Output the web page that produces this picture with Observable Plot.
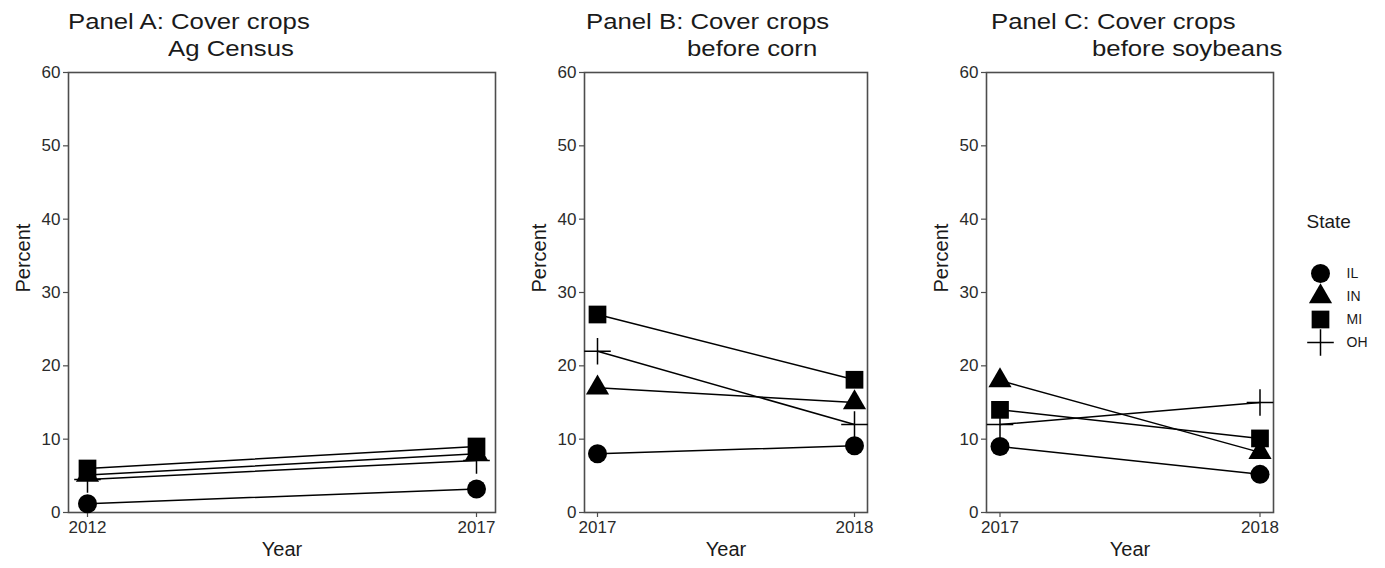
<!DOCTYPE html>
<html><head><meta charset="utf-8">
<script src="https://cdn.jsdelivr.net/npm/d3@7"></script>
<script src="https://cdn.jsdelivr.net/npm/@observablehq/plot@0.6"></script>
<style>
body{margin:0;background:#fff;}
#root{position:relative;width:1385px;height:568px;overflow:hidden;background:#fff;font-family:"Liberation Sans",Arial,sans-serif;color:#1a1a1a;}
.panel{position:absolute;top:0;}
.title{position:absolute;font-size:22px;white-space:nowrap;transform:scaleX(1.17);transform-origin:left top;line-height:1;}
</style></head><body><div id="root"></div>
<script>
// ---- data ----
const states = ["IL", "IN", "MI", "OH"];
const yearsA = [2012, 2017];
const yearsBC = [2017, 2018];
const percentTicks = [0, 10, 20, 30, 40, 50, 60];
// values per state in order IL, IN, MI, OH; each [first year, second year]
const panelAValues = [[1.2, 3.2], [5.1, 8.0], [6.0, 9.0], [4.5, 7.1]];
const panelBValues = [[8.0, 9.1], [17.0, 15.0], [27.0, 18.1], [22.0, 12.0]];
const panelCValues = [[9.0, 5.2], [18.0, 8.2], [14.0, 10.1], [12.0, 15.0]];
const panelTitles = [
  ["Panel A: Cover crops", "Ag Census"],
  ["Panel B: Cover crops", "before corn"],
  ["Panel C: Cover crops", "before soybeans"]
];
const legendTitle = "State";
const xLabel = "Year";
const yLabel = "Percent";

// ---- style / layout ----
const stateSymbols = ["circle", "triangle", "square", "plus"];
const symbolRadius = {IL: 9.5, IN: 8.6, MI: 10, OH: 8.6};
const font = '"Liberation Sans", Arial, sans-serif';
const layout = [
  {left: 0, boxWidth: 427, inset: 19, years: yearsA, values: panelAValues, t1: 68, t2: 168},
  {left: 516, boxWidth: 283, inset: 13, years: yearsBC, values: panelBValues, t1: 586, t2: 687},
  {left: 918, boxWidth: 287, inset: 13.5, years: yearsBC, values: panelCValues, t1: 991, t2: 1092}
];

function symbolDots(data, opts) {
  return states.map(s => Plot.dot(data.filter(d => (d.state ?? d) === s), {
    ...opts,
    r: symbolRadius[s],
    fill: s === "OH" ? "none" : "black",
    stroke: s === "OH" ? "black" : "none",
    strokeWidth: 1.5
  }));
}

const root = document.getElementById("root");

layout.forEach((L, i) => {
  const data = states.flatMap((s, k) => L.years.map((y, j) => ({state: s, year: y, value: L.values[k][j]})));
  const chart = Plot.plot({
    width: 68 + L.boxWidth + 10,
    height: 568,
    marginLeft: 68, marginRight: 10, marginTop: 72, marginBottom: 56,
    style: {fontFamily: font, color: "#1a1a1a", background: "transparent", overflow: "visible"},
    x: {domain: L.years, inset: L.inset},
    y: {domain: [0, 60]},
    symbol: {domain: states, range: stateSymbols},
    marks: [
      Plot.frame({stroke: "#4d4d4d", strokeWidth: 1.6}),
      Plot.axisY({ticks: percentTicks, tickSize: 5, tickPadding: 3, fontSize: 17, label: null, stroke: "#4d4d4d", fill: "#2b2b2b", strokeWidth: 1.2}),
      Plot.axisX({ticks: L.years, tickFormat: d => String(d), tickSize: 5, tickPadding: 3, fontSize: 17, label: null, stroke: "#4d4d4d", fill: "#2b2b2b", strokeWidth: 1.2}),
      Plot.text([yLabel], {frameAnchor: "left", dx: -45, rotate: -90, text: d => d, fontSize: 20}),
      Plot.text([xLabel], {frameAnchor: "bottom", dy: 43, text: d => d, fontSize: 20}),
      Plot.line(data, {x: "year", y: "value", z: "state", stroke: "black", strokeWidth: 1.5}),
      ...symbolDots(data, {x: "year", y: "value", symbol: "state"})
    ]
  });
  chart.classList.add("panel");
  chart.style.left = L.left + "px";
  root.appendChild(chart);

  const [a, b] = panelTitles[i];
  const d1 = document.createElement("div");
  d1.className = "title"; d1.textContent = a;
  d1.style.left = L.t1 + "px"; d1.style.top = "11px";
  const d2 = document.createElement("div");
  d2.className = "title"; d2.textContent = b;
  d2.style.left = L.t2 + "px"; d2.style.top = "38px";
  root.appendChild(d1); root.appendChild(d2);
});

const legend = Plot.plot({
  width: 95, height: 180, margin: 0,
  style: {fontFamily: font, color: "#1a1a1a", background: "transparent", overflow: "visible"},
  x: {axis: null},
  y: {type: "point", domain: states, range: [60, 155], axis: null},
  symbol: {domain: states, range: stateSymbols},
  marks: [
    Plot.text([legendTitle], {frameAnchor: "top-left", dx: 16, dy: 21, text: d => d, textAnchor: "start", lineAnchor: "middle", fontSize: 19}),
    ...symbolDots(states, {frameAnchor: "left", dx: 30, y: d => d, symbol: d => d}),
    Plot.text(states, {frameAnchor: "left", dx: 56, y: d => d, text: d => d, textAnchor: "start", fontSize: 14})
  ]
});
legend.classList.add("panel");
legend.style.left = "1290px";
legend.style.top = "200px";
root.appendChild(legend);
</script></body></html>
